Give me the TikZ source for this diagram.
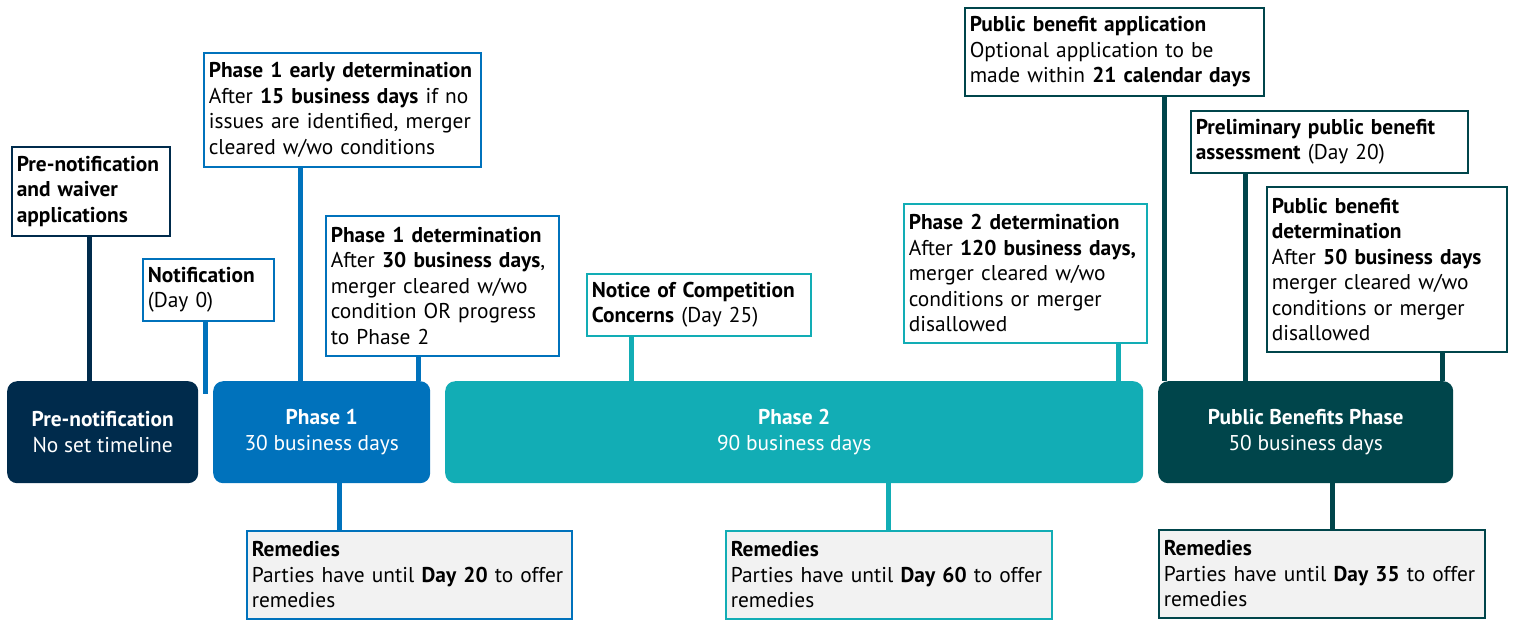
\documentclass[tikz,border=0pt]{standalone}
\usepackage{fontspec}
\setmainfont{PT Sans}
\usetikzlibrary{calc}
\definecolor{navy}{HTML}{002B4C}
\definecolor{pblue}{HTML}{0072BC}
\definecolor{pteal}{HTML}{12ADB5}
\definecolor{pdark}{HTML}{00454B}
\definecolor{remgray}{HTML}{F2F2F2}
\begin{document}
\begin{tikzpicture}[x=1pt,y=-1pt,
  txt/.style={font=\fontsize{21.4}{25.5}\selectfont},
  phase/.style={txt, rounded corners=10pt, minimum height=102pt, text=white,
    align=center, anchor=north west, inner sep=0pt},
  callout/.style={txt, draw=#1, fill=white, line width=1.6pt, anchor=north west,
    align=left, inner xsep=5pt, inner ysep=0pt},
  remedy/.style={callout=#1, fill=remgray},
  link/.style={line width=5pt, draw=#1}]
\useasboundingbox (0,0) rectangle (1514,619);

% phases along the timeline
\node[phase, fill=navy,  minimum width=191pt] (pre) at (7,381)    {\textbf{Pre-notification}\\No set timeline};
\node[phase, fill=pblue, minimum width=217pt] (p1)  at (213,381)  {\textbf{Phase 1}\\30 business days};
\node[phase, fill=pteal, minimum width=698pt] (p2)  at (445,381)  {\textbf{Phase 2}\\90 business days};
\node[phase, fill=pdark, minimum width=295pt] (pb)  at (1158,381) {\textbf{Public Benefits Phase}\\50 business days};

% milestone call-outs above the timeline
\node[callout=navy, text width=148pt, minimum height=89pt] (prewv) at (11,146)
  {\textbf{Pre-notification}\\\textbf{and waiver}\\\textbf{applications}};
\node[callout=pblue, text width=121pt, minimum height=62pt] (notif) at (142,258)
  {\textbf{Notification}\\(Day 0)};
\node[callout=pblue, text width=267pt, minimum height=114pt] (p1e) at (203,52)
  {\textbf{Phase 1 early determination}\\After \textbf{15 business days} if no\\issues are identified, merger\\cleared w/wo conditions};
\node[callout=pblue, text width=223pt, minimum height=140pt] (p1d) at (325,215)
  {\textbf{Phase 1 determination}\\After \textbf{30 business days},\\merger cleared w/wo\\condition OR progress\\to Phase 2};
\node[callout=pteal, text width=214pt, minimum height=62pt] (nocc) at (586,273)
  {\textbf{Notice of Competition}\\\textbf{Concerns} (Day 25)};
\node[callout=pteal, text width=233pt, minimum height=139pt] (p2d) at (903,203)
  {\textbf{Phase 2 determination}\\After \textbf{120 business days,}\\merger cleared w/wo\\conditions or merger\\disallowed};
\node[callout=pdark, text width=289pt, minimum height=88pt] (pba) at (964,7)
  {\textbf{Public benefit application}\\Optional application to be\\made within \textbf{21 calendar days}};
\node[callout=pdark, text width=267pt, minimum height=62pt] (ppba) at (1190,110)
  {\textbf{Preliminary public benefit}\\\textbf{assessment} (Day 20)};
\node[callout=pdark, text width=230pt, minimum height=165pt] (pbd) at (1266,186)
  {\textbf{Public benefit}\\\textbf{determination}\\After \textbf{50 business days}\\merger cleared w/wo\\conditions or merger\\disallowed};

% remedies below the timeline
\node[remedy=pblue, text width=315pt, minimum height=88pt] (rem1) at (246,530)
  {\textbf{Remedies}\\Parties have until \textbf{Day 20} to offer\\remedies};
\node[remedy=pteal, text width=316pt, minimum height=88pt] (rem2) at (725,530)
  {\textbf{Remedies}\\Parties have until \textbf{Day 60} to offer\\remedies};
\node[remedy=pdark, text width=316pt, minimum height=88pt] (rem3) at (1158,529)
  {\textbf{Remedies}\\Parties have until \textbf{Day 35} to offer\\remedies};

% connectors
\draw[link=navy]  ($(prewv.south)+(-1,0)$) coordinate (wA) -- (wA |- pre.north);
\draw[link=pblue] ($(notif.south)+(-2.5,0)$) coordinate (nA) -- ($(nA |- pre.north)+(0,13)$);
\draw[link=pblue] ($(p1e.south)+(-41.5,0)$) coordinate (eA) -- (eA |- p1.north);
\draw[link=pblue] ($(p1d.south)+(-23.5,0)$) coordinate (dA) -- (dA |- p1.north);
\draw[link=pteal] ($(nocc.south)+(-67,0)$) coordinate (cA) -- (cA |- p2.north);
\draw[link=pteal] ($(p2d.south)+(93.5,0)$) coordinate (tA) -- (tA |- p2.north);
\draw[link=pdark] ($(pba.south)+(50.5,0)$) coordinate (aA) -- (aA |- pb.north);
\draw[link=pdark] ($(ppba.south)+(-83.5,0)$) coordinate (sA) -- (sA |- pb.north);
\draw[link=pdark] ($(pbd.south)+(56,0)$) coordinate (bA) -- (bA |- pb.north);
\draw[link=pblue] ($(rem1.north west)+(93,0)$) coordinate (r1) -- (r1 |- p1.south);
\draw[link=pteal] ($(rem2.north west)+(163,0)$) coordinate (r2) -- (r2 |- p2.south);
\draw[link=pdark] ($(rem3.north west)+(174,0)$) coordinate (r3) -- (r3 |- pb.south);
\end{tikzpicture}
\end{document}
